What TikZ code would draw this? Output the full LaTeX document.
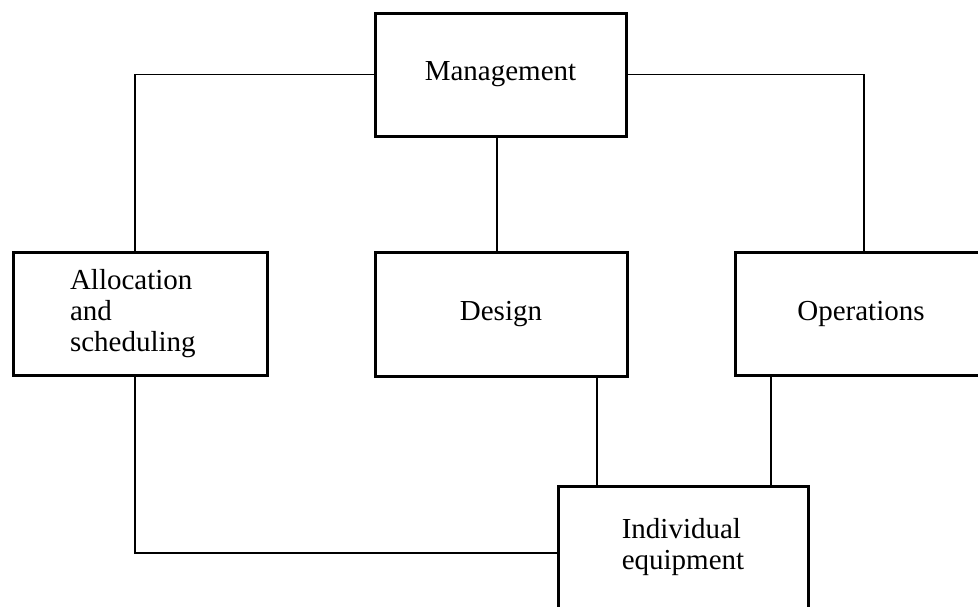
\documentclass[tikz,border=0pt]{standalone}
\usepackage{fontspec}
\setmainfont{Liberation Serif}
\begin{document}
\begin{tikzpicture}[x=1pt,y=-1pt,
  box/.style={draw, line width=3pt, rectangle, minimum width=252pt, minimum height=123pt,
    font=\fontsize{29}{31}\selectfont, align=left, inner sep=0pt},
  link/.style={line width=1.8pt}]
\useasboundingbox (0,0) rectangle (978,606);
\clip (0,0) rectangle (978,606);
\node[box, minimum width=251pt] (mg) at (500.5,74.5) {Management};
\node[box, minimum width=254pt, text width=140pt, inner xsep=57pt] (al) at (140,313.5) {Allocation\\and\\scheduling};
\node[box, minimum height=124pt] (dg) at (501,314) {Design};
\node[box] (op) at (861,313.5) {Operations};
\node[box, minimum width=250pt] (ie) at (683,547.5) {Individual\\equipment};
\draw[link] (mg.west) -| ([xshift=-5pt]al.north);
\draw[link] (mg.east) -| ([xshift=3pt]op.north);
\draw[link] ([xshift=-4pt]dg.north) -- ([xshift=-4pt]dg.north |- mg.south);
\draw[link] ([xshift=96pt]dg.south) -- ([xshift=96pt]dg.south |- ie.north);
\draw[link] ([xshift=-90pt]op.south) -- ([xshift=-90pt]op.south |- ie.north);
\draw[link] ([xshift=-5pt]al.south) |- ([yshift=-5.5pt]ie.west);
\end{tikzpicture}
\end{document}
